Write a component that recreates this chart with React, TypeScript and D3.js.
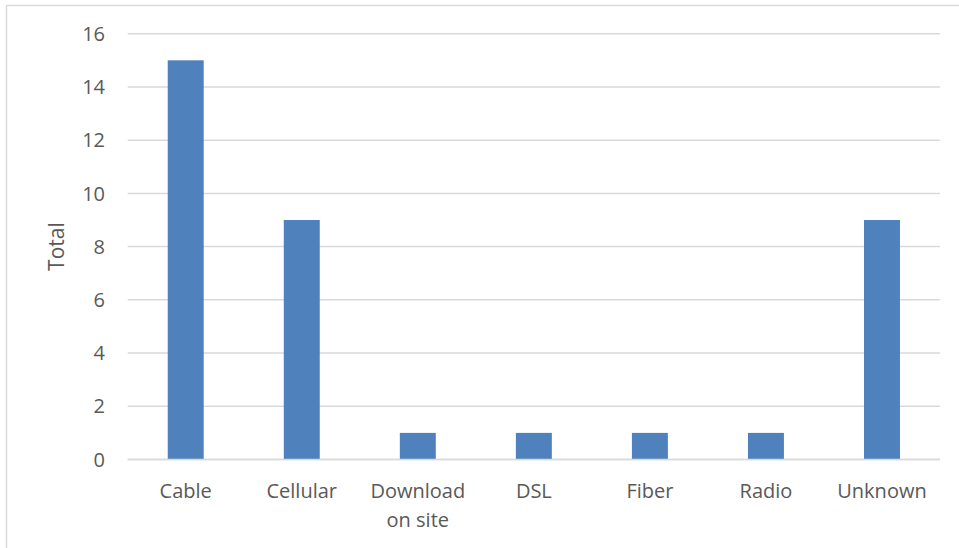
import React from "react";
import * as d3 from "d3";

const categories = ["Cable", "Cellular", "Download on site", "DSL", "Fiber", "Radio", "Unknown"];
const totals = [15, 9, 1, 1, 1, 1, 9];
const yTicks = [0, 2, 4, 6, 8, 10, 12, 14, 16];

// wrapped label lines for the x axis
const labelLines: Record<string, string[]> = {
  "Download on site": ["Download", "on site"],
};

const W = 959;
const H = 548;
const margin = { top: 33.7, right: 19, bottom: 88.5, left: 127.7 };
const FONT = "'Open Sans', sans-serif";
const TEXT = "#595959";

const App = () => {
  const x = d3
    .scaleBand<string>()
    .domain(categories)
    .range([margin.left, W - margin.right])
    .paddingInner(0.69)
    .paddingOuter(0.345);
  const y = d3.scaleLinear().domain([0, 16]).range([H - margin.bottom, margin.top]);
  const step = x.step();

  return (
    <div style={{ position: "fixed", left: 0, top: 0 }}>
      <svg width={W} height={H} style={{ display: "block", background: "#fff" }}>
        <rect x={6.5} y={5.5} width={1000} height={1000} fill="none" stroke="#d9d9d9" strokeWidth={1.5} />
        {yTicks.map((t) => (
          <g key={t}>
            <line x1={margin.left} x2={W - margin.right} y1={y(t)} y2={y(t)} stroke="#d9d9d9" strokeWidth={1.5} />
            <text x={105} y={y(t)} dy="0.36em" textAnchor="end" fontFamily={FONT} fontSize={20} fill={TEXT}>
              {t}
            </text>
          </g>
        ))}
        {categories.map((c, i) => (
          <rect
            key={c}
            x={x(c)}
            y={y(totals[i])}
            width={x.bandwidth()}
            height={y(0) - y(totals[i])}
            fill="#4f81bd"
          />
        ))}
        <line x1={margin.left} x2={W - margin.right} y1={y(0)} y2={y(0)} stroke="#d9d9d9" strokeWidth={1.5} />
        {categories.map((c) => {
          const cx = (x(c) ?? 0) + x.bandwidth() / 2;
          const lines = labelLines[c] ?? [c];
          return (
            <text key={c} x={cx} y={y(0) + 38.5} textAnchor="middle" fontFamily={FONT} fontSize={20} fill={TEXT}>
              {lines.map((l, j) => (
                <tspan key={j} x={cx} dy={j === 0 ? 0 : 29}>
                  {l}
                </tspan>
              ))}
            </text>
          );
        })}
        <text
          transform={`translate(64, ${(y(0) + y(16)) / 2}) rotate(-90)`}
          textAnchor="middle"
          fontFamily={FONT}
          fontSize={21}
          fill={TEXT}
        >
          Total
        </text>
      </svg>
    </div>
  );
};

export default App;
